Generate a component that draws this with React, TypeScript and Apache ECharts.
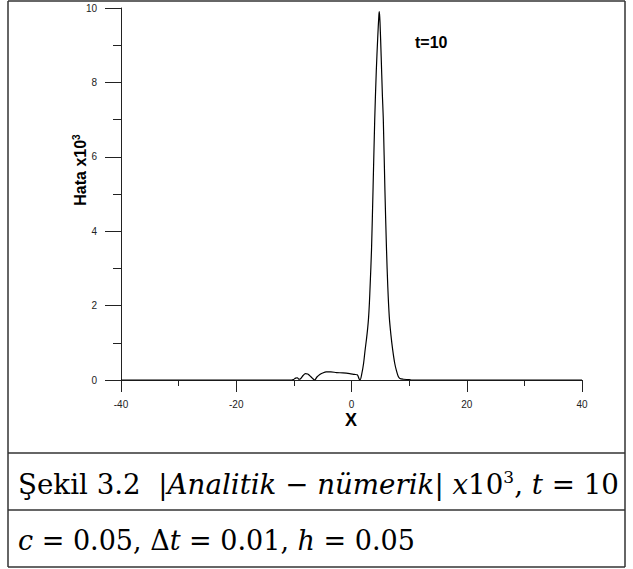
import React, { useEffect, useRef } from "react";
import * as echarts from "echarts";

const xValues = [
  -40, -10.4, -10.1, -9.7, -9.4, -9.1, -8.8, -8.4, -8.0, -7.6, -7.2, -6.8, -6.4, -6.0, -5.5, -5.0, -4.4, -3.6,
  -2.6, -1.5, -0.3, 0.5, 1.0, 1.35, 1.48, 1.8, 2.1, 2.34, 2.6, 2.8, 2.95, 3.1, 3.25, 3.47, 3.75, 4.03, 4.3, 4.55,
  4.75, 4.83, 4.95, 5.15, 5.35, 5.52, 5.8, 6.08, 6.3, 6.56, 6.85, 7.15, 7.5, 7.8, 8.1, 8.4, 9.0, 10.0, 10.5, 40,
];
const errorValues = [
  0, 0, 0.01, 0.05, 0.06, 0.02, 0.04, 0.12, 0.17, 0.16, 0.11, 0.05, 0.0, 0.08, 0.15, 0.19, 0.22, 0.22,
  0.2, 0.19, 0.17, 0.15, 0.14, 0.02, 0.0, 0.18, 0.45, 0.78, 1.1, 1.38, 1.65, 2.05, 2.6, 3.49, 5.2, 7.0, 8.3, 9.2,
  9.8, 9.9, 9.6, 8.7, 7.7, 7.0, 5.1, 3.49, 2.5, 1.69, 1.2, 0.81, 0.45, 0.25, 0.1, 0.04, 0.02, 0.01, 0, 0,
];
const xTickLabels = ["-40", "-20", "0", "20", "40"];
const yTickLabels = ["0", "2", "4", "6", "8", "10"];

const captionLine1 = "Şekil 3.2";
const captionLine2 = "c = 0.05, Δt = 0.01, h = 0.05";

export default function App() {
  const ref = useRef<HTMLDivElement>(null);
  useEffect(() => {
    if (!ref.current) return;
    const chart = echarts.init(ref.current, null, { renderer: "svg" });
    const data = xValues.map((x, i) => [x, errorValues[i]]);
    const axisColor = "#222";
    const serif = "'DejaVu Serif', 'Liberation Serif', serif";
    const sans = "'Liberation Sans', Arial, sans-serif";
    const capSize1 = 27.7;
    const capSize2 = 27;
    chart.setOption({
      animation: false,
      backgroundColor: "#fff",
      grid: { left: 121, right: 51, top: 8, bottom: 189 },
      xAxis: {
        type: "value",
        min: -40,
        max: 40,
        interval: 20,
        splitLine: { show: false },
        axisLine: { onZero: false, lineStyle: { color: axisColor, width: 1 } },
        axisTick: { inside: false, length: 12, lineStyle: { color: axisColor } },
        minorTick: { show: true, splitNumber: 2, length: 6, lineStyle: { color: axisColor } },
        axisLabel: {
          margin: 19,
          color: axisColor,
          fontSize: 10,
          fontFamily: sans,
          formatter: (v: number) => xTickLabels[xTickLabels.indexOf(String(v))] ?? String(v),
        },
      },
      yAxis: {
        type: "value",
        min: 0,
        max: 10,
        interval: 2,
        splitLine: { show: false },
        axisLine: { onZero: false, lineStyle: { color: axisColor, width: 1 } },
        axisTick: { inside: false, length: 16, lineStyle: { color: axisColor } },
        minorTick: { show: true, splitNumber: 2, length: 8, lineStyle: { color: axisColor } },
        axisLabel: {
          margin: 24,
          color: axisColor,
          fontSize: 10,
          fontFamily: sans,
          formatter: (v: number) => yTickLabels[yTickLabels.indexOf(String(v))] ?? String(v),
        },
      },
      series: [
        {
          type: "line",
          data,
          showSymbol: false,
          symbol: "none",
          smooth: 0.3,
          lineStyle: { color: "#000", width: 1.2 },
        },
      ],
      graphic: [
        { type: "line", shape: { x1: 8, y1: 1, x2: 625, y2: 1 }, style: { stroke: "#333", lineWidth: 1.5 } },
        { type: "line", shape: { x1: 8, y1: 1, x2: 8, y2: 567 }, style: { stroke: "#333", lineWidth: 1.5 } },
        { type: "line", shape: { x1: 625, y1: 1, x2: 625, y2: 567 }, style: { stroke: "#333", lineWidth: 1.5 } },
        { type: "line", shape: { x1: 8, y1: 453, x2: 625, y2: 453 }, style: { stroke: "#333", lineWidth: 1.5 } },
        { type: "line", shape: { x1: 8, y1: 510, x2: 625, y2: 510 }, style: { stroke: "#333", lineWidth: 1.5 } },
        { type: "line", shape: { x1: 8, y1: 567, x2: 625, y2: 567 }, style: { stroke: "#333", lineWidth: 1.5 } },
        {
          type: "text",
          x: 80,
          y: 170,
          rotation: Math.PI / 2,
          style: {
            text: "{b|Hata x10}{s|3}",
            align: "center",
            verticalAlign: "middle",
            rich: {
              b: { fontSize: 16, fontWeight: "bold", fontFamily: sans, fill: "#000" },
              s: { fontSize: 10, fontWeight: "bold", fontFamily: sans, fill: "#000", verticalAlign: "top", padding: [0, 0, 8, 0] },
            },
          },
        },
        {
          type: "text",
          x: 351,
          y: 420,
          style: {
            text: "X",
            align: "center",
            verticalAlign: "middle",
            fontSize: 18,
            fontWeight: "bold",
            fontFamily: sans,
            fill: "#000",
          },
        },
        {
          type: "text",
          x: 415,
          y: 42,
          style: {
            text: "t=10",
            align: "left",
            verticalAlign: "middle",
            fontSize: 16,
            fontWeight: "bold",
            fontFamily: sans,
            fill: "#000",
          },
        },
        {
          type: "text",
          x: 18,
          y: 484,
          style: {
            text: `{r|${captionLine1}  |}{i|Analitik}{r| − }{i|nümerik}{r|| }{i|x}{r|10}{s|3}{r|, }{i|t}{r| = 10}`,
            verticalAlign: "middle",
            rich: {
              r: { fontSize: capSize1, fontFamily: serif, fill: "#000" },
              i: { fontSize: capSize1, fontStyle: "italic", fontFamily: serif, fill: "#000" },
              s: { fontSize: 17, fontFamily: serif, fill: "#000", padding: [0, 0, 14, 0] },
            },
          },
        },
        {
          type: "text",
          x: 18,
          y: 540,
          style: {
            text: "{i|c}{r| = 0.05, Δ}{i|t}{r| = 0.01, }{i|h}{r| = 0.05}",
            verticalAlign: "middle",
            rich: {
              r: { fontSize: capSize2, fontFamily: serif, fill: "#000" },
              i: { fontSize: capSize2, fontStyle: "italic", fontFamily: serif, fill: "#000" },
            },
          },
        },
      ],
    });
    return () => chart.dispose();
  }, []);
  return (
    <div
      ref={ref}
      aria-label={captionLine2}
      style={{ position: "fixed", left: 0, top: 0, width: 633, height: 569 }}
    />
  );
}
